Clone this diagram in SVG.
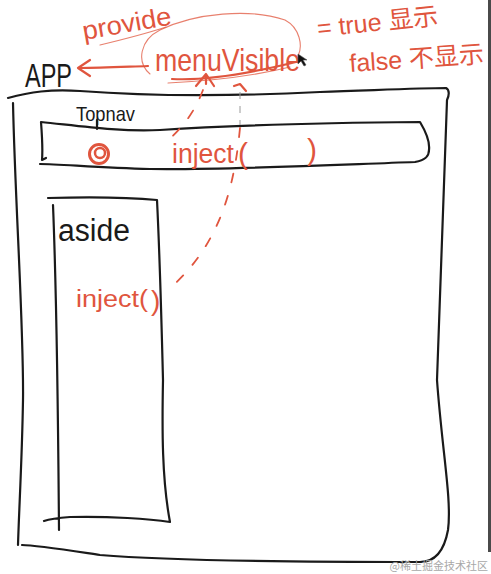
<svg xmlns="http://www.w3.org/2000/svg" width="491" height="574" viewBox="0 0 491 574">
<style>
.ink{fill:none;stroke:#1a1a1a;stroke-width:2.2;stroke-linecap:round;stroke-linejoin:round}
.red{fill:none;stroke:#e0553e;stroke-width:2.2;stroke-linecap:round;stroke-linejoin:round}
.thin{fill:none;stroke:#e0553e;stroke-width:1.1;stroke-linecap:round;opacity:0.75}
.dash{fill:none;stroke:#e0553e;stroke-width:1.8;stroke-dasharray:9 14;stroke-linecap:round}
.bt{font-family:"Liberation Sans",Arial,sans-serif;fill:#1a1a1a}
.rt{font-family:"Liberation Sans","Noto Sans CJK SC",sans-serif;fill:#e0553e}
</style>
<rect width="491" height="574" fill="#ffffff"/>
<rect x="488" y="0" width="3" height="552" fill="#4a4a4a"/>

<g id="app">
<text class="bt" x="25" y="87" font-size="33" textLength="47" lengthAdjust="spacingAndGlyphs">APP</text>
<path class="ink" d="M13,103 C15,200 24,330 23,400 C22,460 19,510 18,545"/>
<path class="ink" d="M8,98 C30,92 50,89 80,91 C160,97 240,96 320,92 C380,90 420,88 446,88 C450,90 449,96 447,100 C444,200 440,300 437,380 C442,450 452,500 448,530 C444,552 435,562 420,562 C300,562 160,560 100,555 C60,549 35,545 22,545"/>
</g>

<g id="menuVisible">
<text class="rt" x="155" y="71" font-size="32" textLength="145" lengthAdjust="spacingAndGlyphs">menuVisible</text>
<path class="thin" d="M150,74 C136,62 140,40 160,30 C195,13 250,8 285,20 C300,28 303,46 298,56"/>
<path class="red" d="M172,79 C210,81 260,71 300,61"/>
<path class="thin" d="M168,83 C210,81 250,77 290,67"/>
</g>

<g id="provide">
<text class="rt" x="84" y="40" font-size="26" transform="rotate(-10 84 40)" textLength="90" lengthAdjust="spacingAndGlyphs">provide</text>
<path class="thin" d="M100,45 C125,39 148,33 166,27"/>
</g>

<g id="values">
<text class="rt" x="318" y="37" font-size="25" transform="rotate(-6 318 37)">= true 显示</text>
<text class="rt" x="350" y="72" font-size="25" transform="rotate(-4 350 72)">false 不显示</text>
</g>

<g id="cursor">
<path d="M298,54 L298,64 L301,61 L304,66 L306,65 L303,60 L307,60 Z" fill="#111" stroke="#555" stroke-width="0.6"/>
</g>

<g id="topnav">
<text class="bt" x="76" y="121" font-size="21" textLength="59" lengthAdjust="spacingAndGlyphs">Topnav</text>
<path class="ink" d="M97,120 L97,129"/>
<path class="ink" stroke-width="2.6" d="M41,122 C42,135 43,148 42,160 L46,158 M41,122 C80,126 120,132 160,130 C220,126 300,123 420,122 C426,132 430,142 429,150 C429,156 426,160 415,162 C330,165 230,170 150,169 C100,168 60,164 40,164"/>
<circle cx="99" cy="154" r="9.5" fill="none" stroke="#e0553e" stroke-width="3"/>
<circle cx="100" cy="153" r="5" fill="none" stroke="#e0553e" stroke-width="2.5"/>
<text class="rt" x="172" y="163" font-size="27" textLength="62" lengthAdjust="spacingAndGlyphs">inject</text>
<text class="rt" x="238" y="164" font-size="30">(</text>
<text class="rt" x="307" y="160" font-size="30">)</text>
</g>

<g id="aside">
<path class="ink" d="M48,198 C85,197 125,197 157,200 C160,260 162,340 163,380 C162,430 162,480 170,522 C150,519 110,516 70,517 C58,518 50,519 44,521 M53,205 C56,280 58,400 59,530"/>
<text class="bt" x="58" y="241" font-size="31" textLength="72" lengthAdjust="spacingAndGlyphs">aside</text>
<text class="rt" x="76" y="307" font-size="23" textLength="72" lengthAdjust="spacingAndGlyphs">inject(</text>
<text class="rt" x="151" y="310" font-size="28">)</text>
</g>

<g id="connectors">
<path class="red" d="M148,66 C120,67 100,68 80,68"/>
<path class="red" d="M90,60 L78,68 L90,76"/>
<path class="red" d="M196,86 L206,74 L214,86 M206,76 L206,84"/>
<path class="red" stroke-width="1.6" d="M234,86 L240,84 L246,91"/>
<path class="dash" d="M203,90 C196,108 186,125 166,142"/>
<path fill="none" stroke="#9a9a9a" stroke-width="1" stroke-dasharray="7 7" d="M240,92 L240,125"/>
<path class="dash" d="M240,128 C236,170 228,205 212,235 C200,258 185,275 168,290"/>
</g>

<text x="488" y="570" text-anchor="end" font-family="'Noto Sans CJK SC',sans-serif" font-size="11" fill="#a8a8a8">@稀土掘金技术社区</text>
</svg>
